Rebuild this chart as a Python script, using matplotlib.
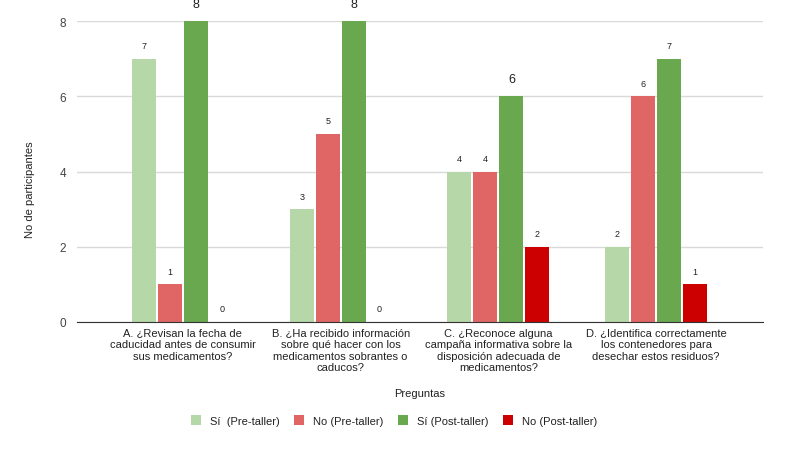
import matplotlib.pyplot as plt
import numpy as np

plt.rcParams['font.family'] = ['Liberation Sans', 'DejaVu Sans']

preguntas = [
    "A. ¿Revisan la fecha de\ncaducidad antes de consumir\nsus medicamentos?",
    "B. ¿Ha recibido información\nsobre qué hacer con los\nmedicamentos sobrantes o\ncaducos?",
    "C. ¿Reconoce alguna\ncampaña informativa sobre la\ndisposición adecuada de\nmedicamentos?",
    "D. ¿Identifica correctamente\nlos contenedores para\ndesechar estos residuos?",
]
series = ["Sí  (Pre-taller)", "No (Pre-taller)", "Sí (Post-taller)", "No (Post-taller)"]
si_pre = [7, 3, 4, 2]
no_pre = [1, 5, 4, 6]
si_post = [8, 8, 6, 7]
no_post = [0, 0, 2, 1]

valores = [si_pre, no_pre, si_post, no_post]
colores = ['#b6d7a8', '#e06666', '#6aa84f', '#cc0000']

fig = plt.figure(figsize=(7.88, 4.52), dpi=100)
ax = fig.add_axes([0.0977, 0.2854, 0.8706, 0.6659])

x = np.arange(len(preguntas))
paso = 26 / 158
ancho = 24 / 158

for k, (vals, col, nombre) in enumerate(zip(valores, colores, series)):
    pos = x + (k - 1.5) * paso
    ax.bar(pos, vals, width=ancho, color=col, label=nombre, zorder=3)
    for j, (p, v) in enumerate(zip(pos, vals)):
        grande = (k == 2 and j < 3)
        ax.annotate(str(v), (p, v), xytext=(0, 17 if grande else 13),
                    textcoords='offset pixels', ha='center', va='center',
                    fontsize=9 if grande else 6.5, color='#222222')

ax.set_xlim(-0.671, 3.677)
ax.set_ylim(0, 8)
ax.set_yticks([0, 2, 4, 6, 8])
ax.yaxis.grid(True, color='#d9d9d9', linewidth=1, zorder=0)
ax.set_xticks(x)
ax.set_xticklabels(preguntas, fontsize=8, color='#222222', linespacing=1.2)
ax.tick_params(axis='x', length=0, pad=4)
ax.tick_params(axis='y', length=0, pad=8, labelsize=8.5, labelcolor='#444444')
for s in ['top', 'right', 'left']:
    ax.spines[s].set_visible(False)
ax.spines['bottom'].set_color('#333333')
ax.spines['bottom'].set_zorder(4)

# etiquetas de ejes
fig.text(30 / 788, 1 - 190 / 452, 'No de participantes', rotation=90,
         ha='center', va='center', fontsize=8, color='#222222')
fig.text(0.533, 0.128, 'Preguntas', ha='center', va='center', fontsize=8, color='#222222')

fig.legend(loc='center', bbox_to_anchor=(0.5, 0.067), ncol=4, frameon=False,
           fontsize=8, handlelength=0.9, handleheight=0.9, handletextpad=0.8,
           columnspacing=1.3, labelcolor='#222222')

fig.savefig('out.png', dpi=100)
